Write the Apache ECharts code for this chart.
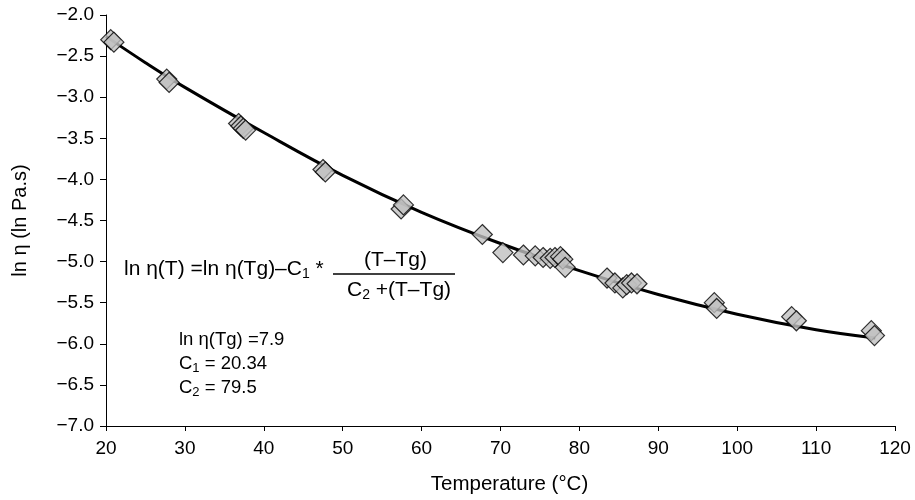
<!DOCTYPE html>
<html><head><meta charset="utf-8">
<script src="https://cdn.jsdelivr.net/npm/echarts@6/dist/echarts.min.js"></script>
<style>html,body{margin:0;padding:0;background:#fff}#c{width:915px;height:500px}</style>
</head><body><div id="c"></div>
<script>
// measured points
var tempC = [20.6, 21.0, 27.7, 28.0, 36.8, 37.1, 37.4, 37.7, 47.5, 47.8, 57.4, 57.7, 67.7, 70.3, 72.9, 74.4, 75.4, 76.3, 76.9, 77.6, 77.9, 78.2, 83.5, 84.5, 85.5, 86.0, 86.6, 87.3, 97.1, 97.4, 106.9, 107.5, 117.0, 117.4];
var lnEta = [-2.30, -2.33, -2.78, -2.82, -3.32, -3.35, -3.38, -3.40, -3.88, -3.91, -4.36, -4.31, -4.67, -4.89, -4.92, -4.93, -4.95, -4.96, -4.95, -4.94, -4.97, -5.07, -5.20, -5.26, -5.32, -5.28, -5.26, -5.27, -5.50, -5.57, -5.67, -5.72, -5.84, -5.90];
// fitted WLF curve
var fitT  = [20, 25, 30, 40, 50, 60, 70, 80, 90, 100, 110, 117.5];
var fitLn = [-2.26, -2.58, -2.88, -3.43, -3.95, -4.40, -4.78, -5.11, -5.40, -5.64, -5.83, -5.93];
var xTicks = [20, 30, 40, 50, 60, 70, 80, 90, 100, 110, 120];
var yTicks = [-2.0, -2.5, -3.0, -3.5, -4.0, -4.5, -5.0, -5.5, -6.0, -6.5, -7.0];

var chart = echarts.init(document.getElementById('c'));
var F = '"Liberation Sans", Arial, sans-serif';
function neg(v){ return v.toFixed(1).replace('-', '\u2212'); }
var EQ = 21, PF = 18.5;
var subEq = {fontSize: 14, fontFamily: F, color: '#000', verticalAlign: 'bottom', padding: [10,0,0,0]};
var subP = {fontSize: 13, fontFamily: F, color: '#000', verticalAlign: 'bottom', padding: [9,0,0,0]};
chart.setOption({
  animation: false,
  backgroundColor: '#fff',
  grid: {left: 106, right: 20, top: 15, bottom: 70},
  xAxis: {
    type: 'value', min: xTicks[0], max: xTicks[xTicks.length-1], interval: 10,
    name: 'Temperature (\u00B0C)', nameLocation: 'middle', nameGap: 48,
    nameTextStyle: {fontSize: 20.5, fontFamily: F, color: '#000', padding: [0,0,0,18]},
    axisLine: {show: true, lineStyle: {color: '#000', width: 1}},
    axisTick: {show: true, length: 5, lineStyle: {color: '#000'}},
    axisLabel: {fontSize: 19, fontFamily: F, color: '#000', margin: 13},
    splitLine: {show: false}
  },
  yAxis: {
    type: 'value', min: yTicks[yTicks.length-1], max: yTicks[0], interval: 0.5,
    name: 'ln \u03B7 (ln Pa.s)', nameLocation: 'middle', nameGap: 76, nameRotate: 90,
    nameTextStyle: {fontSize: 20, fontFamily: F, color: '#000'},
    axisLine: {show: true, onZero: false, lineStyle: {color: '#000', width: 1}},
    axisTick: {show: true, length: 6, lineStyle: {color: '#000'}},
    axisLabel: {fontSize: 19, fontFamily: F, color: '#000', margin: 12, formatter: neg},
    splitLine: {show: false}
  },
  series: [
    {type: 'line', data: fitT.map(function(t,i){return [t, fitLn[i]];}), smooth: 0.4, showSymbol: false,
     lineStyle: {color: '#000', width: 3}, z: 2},
    {type: 'scatter', data: tempC.map(function(t,i){return [t, lnEta[i]];}), symbol: 'diamond', symbolSize: [20,20],
     itemStyle: {color: '#c0c0c0', borderColor: '#000', borderWidth: 1.2}, z: 3}
  ],
  graphic: [
    {type: 'text', left: 124, top: 259, style: {text: 'ln \u03B7(T) =ln \u03B7(Tg)\u2013C{s|1} *', rich: {s: subEq}, font: EQ + 'px ' + F, fill: '#000'}},
    {type: 'text', left: 364, top: 250, style: {text: '(T\u2013Tg)', font: EQ + 'px ' + F, fill: '#000'}},
    {type: 'line', shape: {x1: 333, y1: 274, x2: 455, y2: 274}, style: {stroke: '#000', lineWidth: 1.3}},
    {type: 'text', left: 347, top: 280, style: {text: 'C{s|2} +(T\u2013Tg)', rich: {s: subEq}, font: EQ + 'px ' + F, fill: '#000'}},
    {type: 'text', x: 179, y: 340, style: {text: 'ln \u03B7(Tg) =7.9', font: PF + 'px ' + F, fill: '#000', verticalAlign: 'middle'}},
    {type: 'text', x: 179, y: 364, style: {text: 'C{s|1} = 20.34', rich: {s: subP}, font: PF + 'px ' + F, fill: '#000', verticalAlign: 'middle'}},
    {type: 'text', x: 179, y: 388, style: {text: 'C{s|2} = 79.5', rich: {s: subP}, font: PF + 'px ' + F, fill: '#000', verticalAlign: 'middle'}}
  ]
});
</script></body></html>
